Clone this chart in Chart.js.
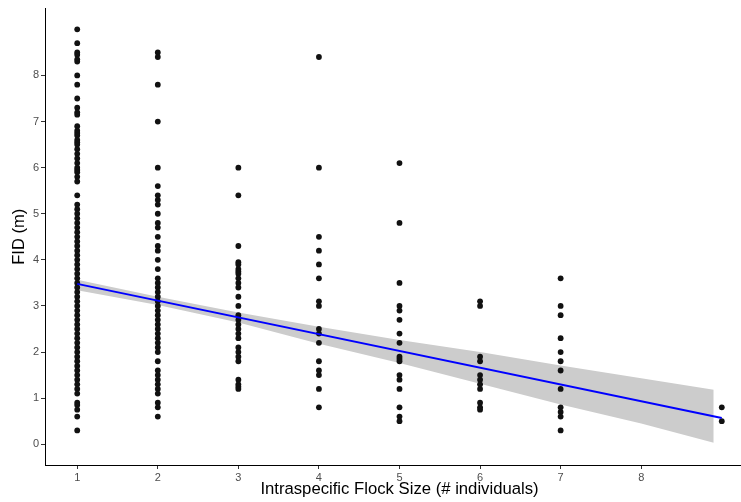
<!DOCTYPE html>
<html>
<head>
<meta charset="utf-8">
<script src="https://cdn.jsdelivr.net/npm/chart.js@4.4.1/dist/chart.umd.min.js"></script>
<style>
  html, body { margin: 0; padding: 0; background: #fff; overflow: hidden; }
  #wrap { width: 741px; height: 502px; overflow: hidden; position: relative; }
  canvas { display: block; }
</style>
</head>
<body>
<div id="wrap"><canvas id="c" width="758" height="502" style="width:758px;height:502px"></canvas></div>
<script>
// ---- data ----
const flockSizes = [1, 2, 3, 4, 5, 6, 7, 9];
const fid1 = [9.0, 8.7, 8.5, 8.45, 8.35, 8.3, 8.0, 7.8, 7.5, 7.3, 7.2, 7.15, 6.9, 6.8, 6.75, 6.7, 6.6, 6.55, 6.5, 6.4, 6.3, 6.2, 6.1, 6.0, 5.95, 5.9, 5.8, 5.7, 5.4, 5.2, 5.1, 5.0, 4.9, 4.8, 4.7, 4.6, 4.5, 4.4, 4.3, 4.2, 4.1, 4.0, 3.9, 3.8, 3.7, 3.6, 3.5, 3.4, 3.3, 3.2, 3.1, 3.0, 2.9, 2.8, 2.7, 2.6, 2.5, 2.4, 2.3, 2.2, 2.1, 2.0, 1.9, 1.8, 1.7, 1.6, 1.5, 1.4, 1.3, 1.2, 1.1, 0.9, 0.85, 0.75, 0.6, 0.3];
const fid2 = [8.5, 8.4, 7.8, 7.0, 6.0, 5.6, 5.4, 5.3, 5.2, 5.0, 4.8, 4.7, 4.5, 4.3, 4.2, 4.0, 3.8, 3.6, 3.5, 3.4, 3.3, 3.2, 3.1, 3.0, 2.9, 2.8, 2.7, 2.6, 2.5, 2.4, 2.3, 2.2, 2.1, 2.0, 1.8, 1.6, 1.5, 1.4, 1.3, 1.2, 1.1, 0.9, 0.8, 0.6];
const fid3 = [6.0, 5.4, 4.3, 3.95, 3.9, 3.8, 3.75, 3.7, 3.6, 3.5, 3.4, 3.2, 3.0, 2.8, 2.7, 2.6, 2.5, 2.4, 2.3, 2.1, 2.0, 1.9, 1.8, 1.4, 1.3, 1.25, 1.2];
const fid4 = [8.4, 6.0, 4.5, 4.2, 3.9, 3.6, 3.1, 3.0, 2.5, 2.4, 2.2, 1.8, 1.6, 1.5, 1.2, 0.8];
const fid5 = [6.1, 4.8, 3.5, 3.0, 2.9, 2.7, 2.4, 2.2, 1.9, 1.85, 1.8, 1.5, 1.4, 1.2, 0.8, 0.6, 0.5];
const fid6 = [3.1, 3.0, 1.9, 1.8, 1.5, 1.4, 1.3, 1.2, 0.9, 0.8, 0.75];
const fid7 = [3.6, 3.0, 2.8, 2.3, 2.0, 1.8, 1.6, 1.2, 0.8, 0.7, 0.6, 0.3];
const fid9 = [0.8, 0.5];
const fidByFlock = [fid1, fid2, fid3, fid4, fid5, fid6, fid7, fid9];

// linear fit and its confidence band
const fitX = [1, 9];
const fitY = [3.48, 0.57];
const bandX = [1, 2, 3, 4, 5, 6, 7, 8, 8.9];
const bandUpper = [3.57, 3.20, 2.86, 2.55, 2.26, 2.00, 1.71, 1.43, 1.18];
const bandLower = [3.34, 3.02, 2.64, 2.18, 1.76, 1.31, 0.86, 0.45, 0.03];

const xTicks = [1, 2, 3, 4, 5, 6, 7, 8];
const yTicks = [0, 1, 2, 3, 4, 5, 6, 7, 8];
const xTitle = 'Intraspecific Flock Size (# individuals)';
const yTitle = 'FID (m)';

// ---- build datasets ----
const points = [];
flockSizes.forEach((fs, i) => fidByFlock[i].forEach(v => points.push({ x: fs, y: v })));
const upperPts = bandX.map((x, i) => ({ x, y: bandUpper[i] }));
const lowerPts = bandX.map((x, i) => ({ x, y: bandLower[i] }));
const fitPts = fitX.map((x, i) => ({ x, y: fitY[i] }));

const FONT = "'Liberation Sans', Arial, Helvetica, sans-serif";

new Chart(document.getElementById('c'), {
  type: 'scatter',
  data: {
    datasets: [
      { data: lowerPts, showLine: true, pointRadius: 0, borderWidth: 0, borderColor: 'rgba(0,0,0,0)', fill: false, order: 4 },
      { data: upperPts, showLine: true, pointRadius: 0, borderWidth: 0, borderColor: 'rgba(0,0,0,0)', backgroundColor: '#cccccc', fill: 0, order: 3 },
      { data: points, pointRadius: 2.9, pointBackgroundColor: '#111', pointBorderWidth: 0, pointBorderColor: '#111', order: 2 },
      { data: fitPts, showLine: true, pointRadius: 0, borderColor: '#0000ff', borderWidth: 1.9, fill: false, order: 1 }
    ]
  },
  options: {
    responsive: false,
    animation: false,
    devicePixelRatio: 1,
    layout: { padding: { top: 7, left: 0, right: 0, bottom: 0 } },
    plugins: { legend: { display: false }, tooltip: { enabled: false }, filler: { drawTime: 'beforeDatasetsDraw' } },
    scales: {
      x: {
        type: 'linear', min: 0.6, max: 9.4,
        afterBuildTicks: s => { s.ticks = xTicks.map(v => ({ value: v })); },
        afterFit: s => { s.height = 37; },
        ticks: { autoSkip: false, maxRotation: 0, font: { family: FONT, size: 11 }, color: '#4d4d4d', padding: 2 },
        grid: { drawOnChartArea: false, drawTicks: true, tickLength: 4, color: '#333333' },
        border: { display: true, color: '#000', width: 1 },
        title: { display: true, text: xTitle, font: { family: FONT, size: 16.7 }, color: '#000', padding: { top: 0, bottom: 3 } }
      },
      y: {
        type: 'linear', min: -0.45, max: 9.45,
        afterBuildTicks: s => { s.ticks = yTicks.map(v => ({ value: v })); },
        afterFit: s => { s.width = 45; },
        ticks: { autoSkip: false, font: { family: FONT, size: 11 }, color: '#4d4d4d', padding: 2 },
        grid: { drawOnChartArea: false, drawTicks: true, tickLength: 4, color: '#333333' },
        border: { display: true, color: '#000', width: 1 },
        title: { display: true, text: yTitle, font: { family: FONT, size: 16.5 }, color: '#000', padding: { top: 10 } }
      }
    }
  }
});
</script>
</body>
</html>
